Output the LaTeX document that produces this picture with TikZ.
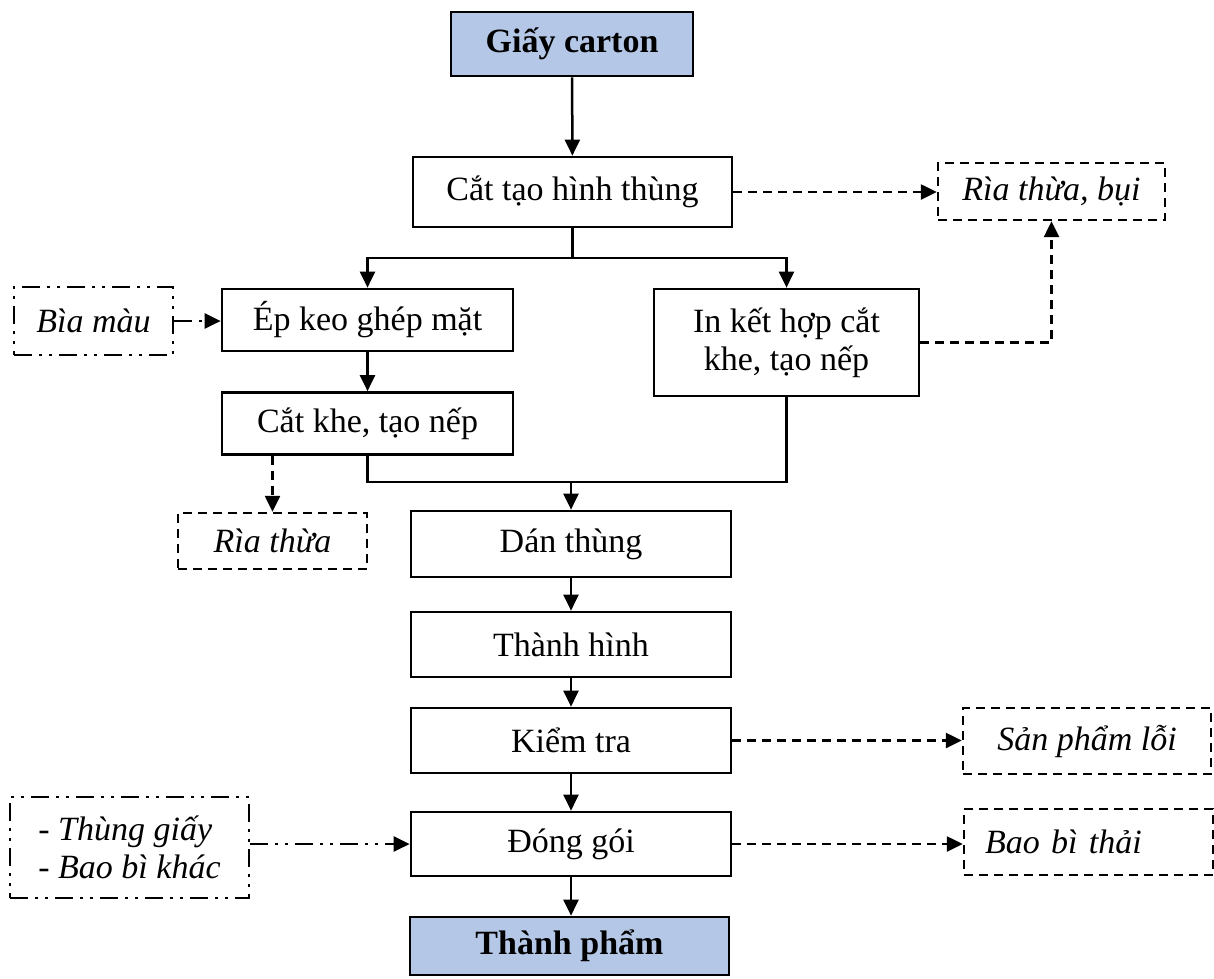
\documentclass[tikz,border=0pt]{standalone}
\usepackage{fontspec}
\setmainfont{Liberation Serif}
\usetikzlibrary{arrows.meta}
\definecolor{stepblue}{RGB}{180,199,231}
\tikzset{
  base/.style={draw=black, line width=2.7pt, inner sep=0pt, align=center,
    font=\fontsize{34}{38}\selectfont},
  stepbox/.style={base},
  endbox/.style={base, fill=stepblue, font=\fontsize{34}{38}\selectfont\bfseries},
  wastebox/.style={base, line width=2.4pt, dash pattern=on 9pt off 6pt,
    font=\fontsize{34}{38}\selectfont\itshape},
  inputbox/.style={base, line width=2.4pt, dash pattern=on 18pt off 7pt on 3pt off 7pt on 3pt off 7pt,
    font=\fontsize{34}{38}\selectfont\itshape},
  tip/.style={-{Triangle[length=16pt,width=15pt]}},
  flow/.style={tip, line width=2.5pt},
  line/.style={line width=2.5pt},
  wasteflow/.style={tip, line width=2.4pt, dash pattern=on 9pt off 6pt},
  inputflow/.style={tip, line width=2.4pt, dash pattern=on 18pt off 7pt on 3pt off 7pt on 3pt off 7pt},
}
\begin{document}
\begin{tikzpicture}[x=1pt, y=-1pt]
\useasboundingbox (0,0) rectangle (1214,978);

% main process chain
\node[endbox, minimum width=242pt, minimum height=64pt] (gc) at (572,44) {Giấy carton};
\node[stepbox, minimum width=319pt, minimum height=70pt] (cut) at (572.5,192) {Cắt tạo hình thùng};
\node[stepbox, minimum width=291pt, minimum height=62pt] (ep) at (367.5,320) {Ép keo ghép mặt};
\node[stepbox, minimum width=265pt, minimum height=107pt] (ink) at (786.5,342.5) {In kết hợp cắt\\khe, tạo nếp};
\node[stepbox, minimum width=291pt, minimum height=62pt] (ck) at (367.5,423.5) {Cắt khe, tạo nếp};
\node[stepbox, minimum width=320pt, minimum height=66pt] (dan) at (571,544) {Dán thùng};
\node[stepbox, minimum width=320pt, minimum height=65pt] (th) at (571,644.5) {Thành hình};
\node[stepbox, minimum width=320pt, minimum height=65pt] (kt) at (571,740.5) {Kiểm tra};
\node[stepbox, minimum width=320pt, minimum height=64pt] (dg) at (571,844) {Đóng gói};
\node[endbox, minimum width=319pt, minimum height=58pt] (tp) at (569.5,946) {Thành phẩm};

% inputs
\node[inputbox, minimum width=159pt, minimum height=68pt] (bia) at (93.5,321) {Bìa màu};
\node[inputbox, minimum width=239pt, minimum height=101pt, align=left] (tg) at (129.5,847.5) {- Thùng giấy\\- Bao bì khác};

% waste outputs
\node[wastebox, minimum width=227pt, minimum height=57pt] (w1) at (1051.5,191.5) {Rìa thừa, bụi};
\node[wastebox, minimum width=189pt, minimum height=56pt] (w2) at (272.5,541) {Rìa thừa};
\node[wastebox, minimum width=248pt, minimum height=66pt] (sp) at (1087,741) {Sản phẩm lỗi};
\node[wastebox, text width=207pt, inner xsep=21pt, align=left, minimum height=66pt] (bb) at (1088.5,842) {Bao bì thải};

% split and merge points
\coordinate (split) at (572.5,258);
\coordinate (merge) at (571,482);

% solid flow
\draw[flow] (gc) -- (cut);
\draw[line] (cut.south) -- (split);
\draw[flow] (split) -| (ep.north);
\draw[flow] (split) -| (ink.north);
\draw[flow] (ep) -- (ck);
\draw[line] (ck.south) |- (ink.south |- merge) -- (ink.south);
\draw[flow] (merge) -- (dan.north);
\draw[flow] (dan) -- (th);
\draw[flow] (th) -- (kt);
\draw[flow] (kt) -- (dg);
\draw[flow] (dg.south) -- (dg.south |- tp.north);

% input flow
\draw[inputflow] (bia.east) -- (bia.east -| ep.west);
\draw[inputflow] (dg.west -| tg.east) -- (dg.west);

% waste flow
\draw[wasteflow] (cut.east) -- (cut.east -| w1.west);
\draw[wasteflow] (ink.east) -| (w1.south);
\draw[wasteflow] (ck.south -| w2.north) -- (w2.north);
\draw[wasteflow] (kt.east) -- (kt.east -| sp.west);
\draw[wasteflow] (dg.east) -- (dg.east -| bb.west);
\end{tikzpicture}
\end{document}
